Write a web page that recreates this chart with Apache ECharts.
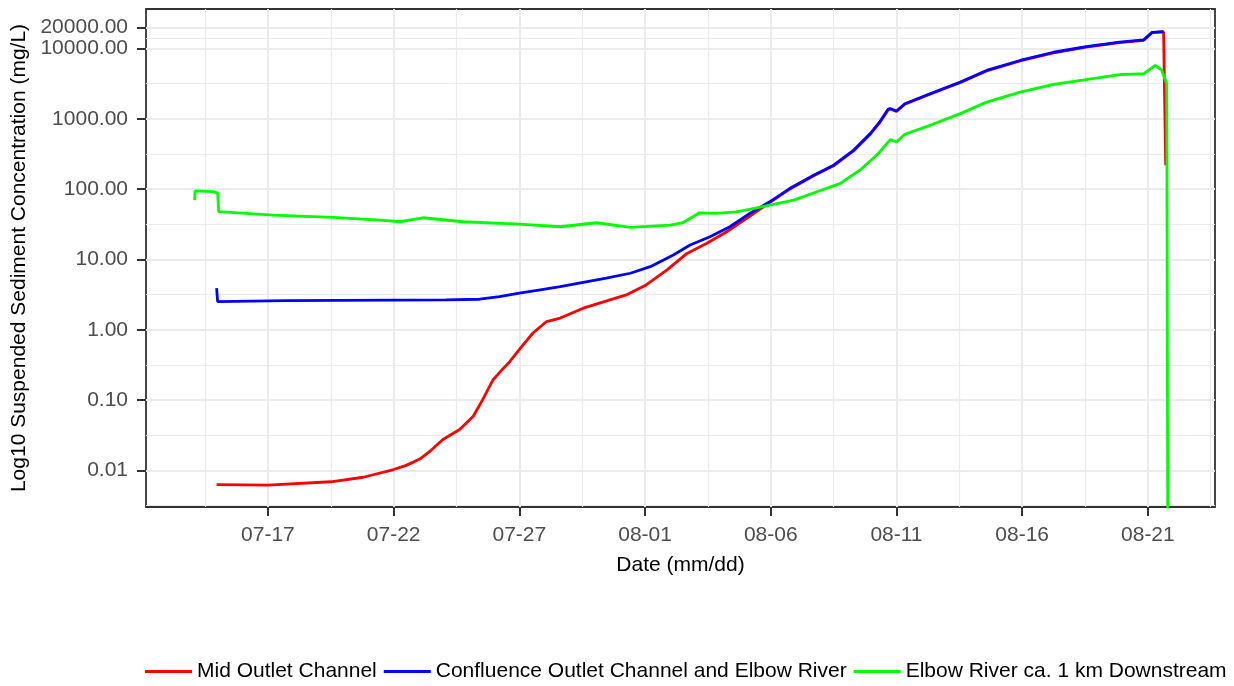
<!DOCTYPE html>
<html>
<head>
<meta charset="utf-8">
<title>Suspended Sediment Concentration</title>
<script src="https://cdn.jsdelivr.net/npm/echarts@6/dist/echarts.min.js"></script>
<style>
  html, body { margin: 0; padding: 0; background: #ffffff; }
  #chart { width: 1234px; height: 686px; }
</style>
</head>
<body>
<div id="chart"></div>
<script>
// Sampling times are 'MM-DD HH:mm'; values in mg/L.
const midTimes = ['07-14 23:00','07-17 00:00','07-19 12:00','07-20 19:00','07-22 00:00','07-22 12:00','07-23 01:00',
  '07-23 12:00','07-23 23:00','07-24 15:00','07-25 04:00','07-25 13:00','07-25 23:00','07-26 06:00','07-26 15:00',
  '07-27 01:00','07-27 13:00','07-28 02:00','07-28 15:00','07-29 13:00','07-31 06:00','08-01 01:00','08-01 21:00',
  '08-02 16:00','08-03 11:00','08-04 06:00','08-05 01:00','08-05 17:00','08-06 18:00','08-07 17:00','08-08 12:00',
  '08-09 07:00','08-09 23:00','08-10 08:00','08-10 16:00','08-10 18:00','08-11 00:00','08-11 08:00','08-12 08:00',
  '08-13 13:00','08-14 14:00','08-15 22:00','08-17 06:00','08-18 13:00','08-19 21:00','08-20 20:00','08-21 04:00',
  '08-21 15:00','08-21 16:00','08-21 17:00'];
const midValues = [0.0063,0.0062,0.0069,0.0080,0.0103,0.0118,0.0145,
  0.0195,0.0275,0.0382,0.0589,0.1016,0.195,0.256,0.355,
  0.55,0.90,1.31,1.47,2.03,3.13,4.35,7.10,
  12.2,17.0,24.8,38.4,56.1,100,155,215,
  350,605,885,1340,1380,1270,1610,2240,
  3280,4800,6650,8700,10500,12100,13100,16800,
  17200,16800,219];

const confTimes = ['07-14 23:00','07-15 00:00','07-17 18:00','07-24 02:00','07-25 10:00','07-26 05:00','07-27 00:00',
  '07-27 20:00','07-28 15:00','07-30 11:00','07-31 10:00','08-01 05:00','08-02 03:00','08-02 19:00','08-03 14:00',
  '08-04 09:00','08-05 04:00','08-05 23:00','08-06 18:00','08-07 17:00','08-08 12:00','08-09 07:00','08-09 23:00',
  '08-10 08:00','08-10 16:00','08-10 18:00','08-11 00:00','08-11 08:00','08-12 08:00','08-13 13:00','08-14 14:00',
  '08-15 22:00','08-17 06:00','08-18 13:00','08-19 21:00','08-20 20:00','08-21 04:00','08-21 15:00'];
const confValues = [3.9,2.52,2.6,2.67,2.72,2.97,3.31,
  3.7,4.11,5.41,6.37,7.91,11.6,16.1,21.0,
  29.2,45.2,66.1,102,158,219,357,617,
  902,1365,1400,1290,1640,2275,3327,4875,
  6760,8850,10670,12300,13270,17020,17400];

const downTimes = ['07-14 02:00','07-14 02:30','07-14 20:00','07-15 00:00','07-15 01:00','07-17 05:00','07-19 14:00',
  '07-21 11:00','07-22 06:00','07-23 04:00','07-24 18:00','07-27 00:00','07-28 15:00','07-30 02:00','07-31 10:00',
  '08-02 00:00','08-02 12:00','08-03 04:00','08-03 20:00','08-04 15:00','08-05 05:00','08-05 23:00','08-06 22:00',
  '08-07 20:00','08-08 18:00','08-09 13:00','08-10 05:00','08-10 08:00','08-10 18:00','08-11 00:00','08-11 08:00',
  '08-12 08:00','08-13 13:00','08-14 14:00','08-15 22:00','08-17 06:00','08-18 13:00','08-19 21:00','08-20 20:00',
  '08-21 07:00','08-21 13:00','08-21 18:00','08-21 19:00'];
const downValues = [69.8,94.6,92,88,47.9,42.8,39.6,
  36.3,34.4,39.2,34.4,31.9,29.2,33.3,28.6,
  30.9,33.3,46.1,45.2,47.6,52,59.3,69.8,
  91.8,120,186,303,338,507,469,603,
  809,1186,1730,2400,3090,3600,4240,4375,
  5740,4990,3160,0.001];

const seriesNames = ['Mid Outlet Channel', 'Confluence Outlet Channel and Elbow River', 'Elbow River ca. 1 km Downstream'];
const seriesColors = ['#FF0000', '#0000FF', '#00FF00'];

// Date axis ticks (day numbers: July d -> d, August d -> 31 + d)
const dateTicks = ['07-17','07-22','07-27','08-01','08-06','08-11','08-16','08-21'];
const dateMinorTicks = ['07-14 12:00','07-19 12:00','07-24 12:00','07-29 12:00','08-03 12:00','08-08 12:00',
  '08-13 12:00','08-18 12:00','08-23 12:00'];
const concTicks = [0.01, 0.1, 1, 10, 100, 1000, 10000, 20000];
const concMinorExponents = [-2.5, -1.5, -0.5, 0.5, 1.5, 2.5, 3.5, 4.1505];

function toDay(s) {
  const [md, hm] = s.split(' ');
  const [m, d] = md.split('-').map(Number);
  let day = (m === 8 ? 31 : 0) + d;
  if (hm) {
    const [h, mi] = hm.split(':').map(Number);
    day += (h + mi / 60) / 24;
  }
  return day;
}
function dayLabel(v) {
  const r = Math.round(v);
  const m = r > 31 ? 8 : 7;
  const d = r > 31 ? r - 31 : r;
  return '0' + m + '-' + String(d).padStart(2, '0');
}
function pairs(times, values) {
  return times.map((t, i) => [toDay(t), values[i]]);
}

const FONT = "'Liberation Sans', Arial, sans-serif";
const xMin = 12.15, xMax = 54.67;
const yMin = Math.pow(10, -2.52), yMax = Math.pow(10, 4.562);
const gridLine = '#EBEBEB';

const chart = echarts.init(document.getElementById('chart'), null, { renderer: 'canvas' });

const seriesData = [pairs(midTimes, midValues), pairs(confTimes, confValues), pairs(downTimes, downValues)];

chart.setOption({
  animation: false,
  backgroundColor: '#ffffff',
  textStyle: { fontFamily: FONT },
  grid: {
    left: 146, right: 19, top: 9, bottom: 179,
    show: true, borderColor: '#333333', borderWidth: 1.8, backgroundColor: 'transparent'
  },
  legend: {
    left: 140, top: 656,
    icon: 'rect', itemWidth: 47, itemHeight: 3, itemGap: 7,
    textStyle: { fontSize: 21, color: '#000000', fontFamily: FONT },
    data: seriesNames
  },
  xAxis: [
    {
      type: 'value', min: xMin, max: xMax,
      name: 'Date (mm/dd)', nameLocation: 'middle', nameGap: 48,
      nameTextStyle: { fontSize: 21, color: '#000000', fontFamily: FONT },
      axisLine: { show: false },
      axisTick: { show: true, length: 9, customValues: dateTicks.map(toDay),
        lineStyle: { color: '#333333', width: 2 } },
      axisLabel: { customValues: dateTicks.map(toDay), formatter: dayLabel, margin: 18,
        fontSize: 21, color: '#4D4D4D', fontFamily: FONT },
      splitLine: { show: true, lineStyle: { color: gridLine, width: 2 } }
    },
    {
      type: 'value', min: xMin, max: xMax, gridIndex: 0,
      axisLine: { show: false }, axisLabel: { show: false },
      axisTick: { show: false, customValues: dateMinorTicks.map(toDay) },
      splitLine: { show: true, lineStyle: { color: gridLine, width: 1.2 } }
    }
  ],
  yAxis: [
    {
      type: 'log', logBase: 10, min: yMin, max: yMax,
      name: 'Log10 Suspended Sediment Concentration (mg/L)', nameLocation: 'middle', nameGap: 116,
      nameTextStyle: { fontSize: 21, color: '#000000', fontFamily: FONT },
      axisLine: { show: false },
      axisTick: { show: true, length: 9, customValues: concTicks,
        lineStyle: { color: '#333333', width: 2 } },
      axisLabel: { customValues: concTicks, formatter: v => Number(v).toFixed(2), margin: 18,
        fontSize: 21, color: '#4D4D4D', fontFamily: FONT },
      splitLine: { show: true, lineStyle: { color: gridLine, width: 2 } }
    },
    {
      type: 'log', logBase: 10, min: yMin, max: yMax, gridIndex: 0,
      axisLine: { show: false }, axisLabel: { show: false },
      axisTick: { show: false, customValues: concMinorExponents.map(e => Math.pow(10, e)) },
      splitLine: { show: true, lineStyle: { color: gridLine, width: 1.2 } }
    }
  ],
  series: seriesNames.map((name, i) => ({
    name: name,
    type: 'line',
    xAxisIndex: 0, yAxisIndex: 0,
    data: seriesData[i],
    showSymbol: false,
    symbol: 'none',
    clip: true,
    color: seriesColors[i],
    lineStyle: { color: seriesColors[i], width: 2.8 },
    z: 2 + i
  }))
});
</script>
</body>
</html>
